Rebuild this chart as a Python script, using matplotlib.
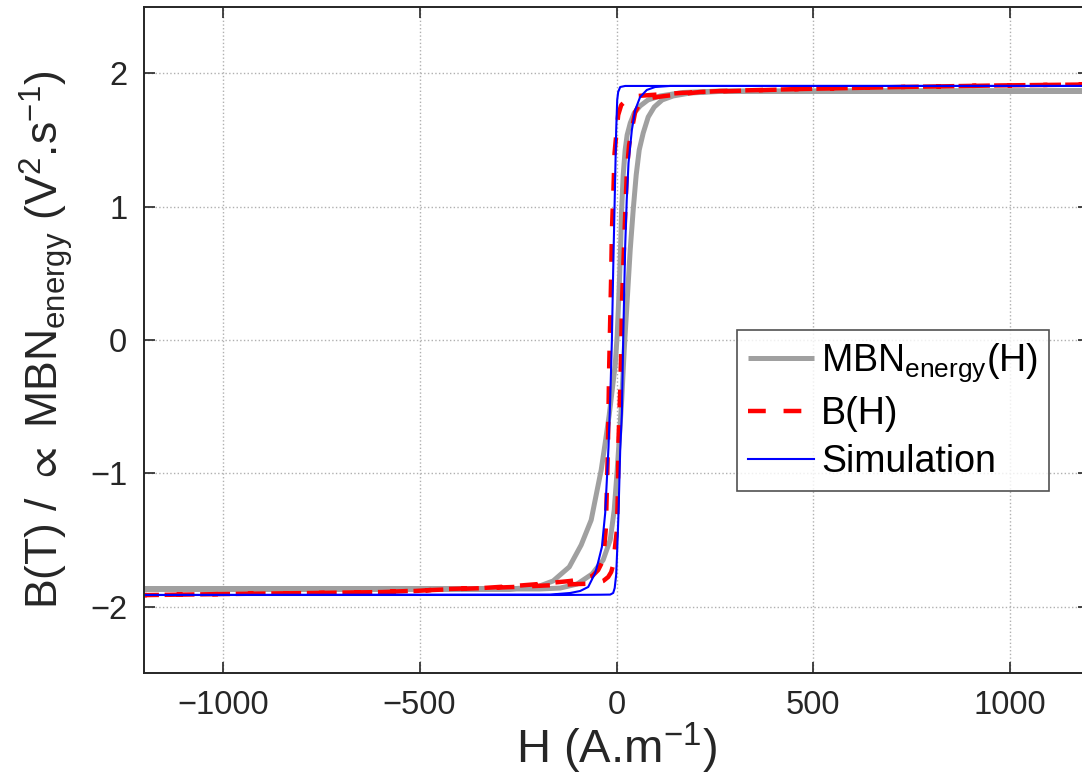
import matplotlib
matplotlib.use("Agg")
import matplotlib.pyplot as plt
import numpy as np

plt.rcParams['font.family'] = ['Liberation Sans', 'DejaVu Sans']
plt.rcParams['mathtext.fontset'] = 'custom'
plt.rcParams['mathtext.rm'] = 'Liberation Sans'
plt.rcParams['mathtext.it'] = 'Liberation Sans:italic'
plt.rcParams['mathtext.fallback'] = 'stixsans'
plt.rcParams['axes.unicode_minus'] = True

# MBN energy loop (grey) - descending branch then ascending branch
mbn_desc_h = [1200, 263, 169, 111, 80, 60, 45, 35, 27, 22, 17, 13, 9.4, 5.6, 1.8, -3.3,
              -10.9, -18.5, -28.7, -38.9, -51.6, -64.3, -89.7, -120, -161, -202, -270, -1200]
mbn_desc_b = [1.867, 1.867, 1.856, 1.830, 1.800, 1.755, 1.702, 1.627, 1.537, 1.425, 1.237,
              0.975, 0.600, 0.300, 0.037, -0.187, -0.375, -0.562, -0.772, -0.975, -1.162,
              -1.350, -1.537, -1.702, -1.807, -1.852, -1.867, -1.867]
mbn_asc_h = [-1200, -195, -143, -100, -62, -34, -16, -5.8, 1.8, 6.9, 13.2, 19.6, 27.2, 34.8,
             42.4, 50, 57.7, 67.8, 80.5, 95.8, 116, 144, 187, 263, 1200]
mbn_asc_b = [-1.867, -1.867, -1.860, -1.830, -1.755, -1.650, -1.500, -1.275, -0.975, -0.750,
             -0.450, -0.075, 0.300, 0.675, 0.975, 1.237, 1.425, 1.552, 1.672, 1.747, 1.800,
             1.830, 1.852, 1.864, 1.867]

# measured B(H) loop (red dashed)
bh_desc_h = [1200, 975, 720, 466, 263, 161, 86, 55, 27, 12, 4.3, 0.5, -5, -7.6, -11.7,
             -13.5, -16, -18.5, -20.3, -21.8, -24.4, -27, -33.8, -46.5, -61.7, -84.6,
             -117.6, -156, -181, -262, -341, -428, -511, -595, -765, -999, -1200]
bh_desc_b = [1.916, 1.909, 1.897, 1.882, 1.867, 1.852, 1.837, 1.830, 1.804, 1.762, 1.687,
             1.575, 1.400, 1.140, 0.817, 0.487, 0.150, -0.187, -0.510, -0.810, -1.110,
             -1.410, -1.650, -1.725, -1.770, -1.792, -1.807, -1.818, -1.826, -1.845,
             -1.860, -1.867, -1.882, -1.890, -1.897, -1.905, -1.913]
bh_asc_h = [-1200, -999, -765, -595, -428, -262, -181, -100, -54, -33.8, -21, -13.5, -8.4,
            -4.6, 1, 3.6, 5.1, 9.4, 12, 13.7, 17.8, 22, 26.4, 32, 40, 47.5, 60, 86, 124,
            213, 466, 720, 975, 1200]
bh_asc_b = [-1.913, -1.905, -1.897, -1.890, -1.870, -1.852, -1.841, -1.830, -1.826, -1.807,
            -1.777, -1.740, -1.687, -1.575, -1.425, -1.125, -0.750, -0.375, -0.060, 0.262,
            0.600, 0.937, 1.275, 1.462, 1.597, 1.710, 1.777, 1.815, 1.830, 1.860, 1.882,
            1.897, 1.909, 1.916]

# simulated loop (blue)
sim_desc_h = [1200, 111, 22.1, 9.4, 4.3, 1.8, -0.8, -4.6, -8.4, -11.7, -16, -20.3, -28.7,
              -37.1, -46.5, -54.1, -71.9, -92.2, -117.6, -168.4, -1200]
sim_desc_b = [1.905, 1.905, 1.905, 1.897, 1.860, 1.800, 1.575, 1.050, 0.525, 0.0, -0.450,
              -0.802, -1.297, -1.552, -1.665, -1.747, -1.852, -1.882, -1.897, -1.909, -1.912]
sim_asc_h = [-1200, -143, -41, -16, -8.4, -4.6, -0.8, 1.8, 5.1, 9.4, 13.7, 17, 22, 26,
             30.5, 39, 47.5, 60, 77, 98, 136, 1200]
sim_asc_b = [-1.912, -1.912, -1.910, -1.909, -1.897, -1.860, -1.760, -1.575, -1.297, -0.825,
             -0.547, 0.0, 0.697, 1.050, 1.327, 1.575, 1.725, 1.822, 1.875, 1.897, 1.905, 1.905]

xticks = [-1000, -500, 0, 500, 1000]
yticks = [-2, -1, 0, 1, 2]

fig = plt.figure(figsize=(10.82, 7.83), dpi=100)
# right edge of the original axes is cropped off, so the box runs past the figure
ax = fig.add_axes([144 / 1082, 109.6 / 783, 945 / 1082, 666.8 / 783])

ax.plot(mbn_desc_h + mbn_asc_h, mbn_desc_b + mbn_asc_b, color='#a0a0a0', lw=3.6,
        label=r'MBN$_{\mathregular{energy}}$(H)', solid_capstyle='butt')
ax.plot(bh_desc_h + bh_asc_h, bh_desc_b + bh_asc_b, color='#ff0000', lw=3.2,
        linestyle=(0, (4, 4)), label='B(H)')
ax.plot(sim_desc_h + sim_asc_h, sim_desc_b + sim_asc_b, color='#0000ff', lw=1.5,
        label='Simulation')

ax.set_xlim(-1200, 1200)
ax.set_ylim(-2.5, 2.5)
ax.set_xticks(xticks)
ax.set_yticks(yticks)
ax.grid(True, linestyle=':', color='#b0b0b0', lw=1.0)
ax.tick_params(direction='in', length=8, width=1.2, top=True, right=True,
               labelsize=23.5, colors='#262626', pad=12)
for s in ax.spines.values():
    s.set_linewidth(1.4)
    s.set_color('#262626')

ax.set_xlabel(r'H (A.m$^{\mathregular{-1}}$)', fontsize=34, color='#262626', labelpad=0)
ax.set_ylabel(r'B(T) / $\propto$ MBN$_{\mathregular{energy}}$ (V$^{\mathregular{2}}$.s$^{\mathregular{-1}}$)',
              fontsize=32, color='#262626', labelpad=11)

leg = ax.legend(loc='upper left', bbox_to_anchor=(0.6275, 0.515), borderaxespad=0,
                fontsize=27, frameon=True, fancybox=False, handlelength=1.75,
                handletextpad=0.2, borderpad=0.3, labelspacing=0.32)
leg.get_frame().set_edgecolor('#262626')
leg.get_frame().set_linewidth(1.2)

fig.savefig('out.png', dpi=100)
